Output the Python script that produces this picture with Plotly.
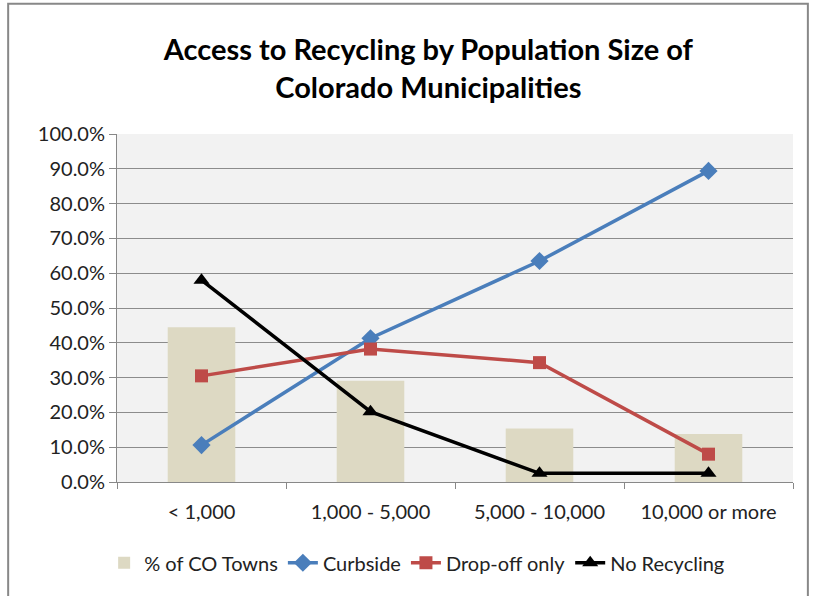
import plotly.graph_objects as go

categories = ["< 1,000", "1,000 - 5,000", "5,000 - 10,000", "10,000 or more"]
pct_towns = [0.445, 0.291, 0.154, 0.138]
curbside = [0.106, 0.413, 0.635, 0.894]
dropoff = [0.305, 0.382, 0.343, 0.080]
no_recycling = [0.580, 0.202, 0.025, 0.025]

font_family = "Lato, 'Open Sans', sans-serif"

fig = go.Figure()
fig.add_trace(go.Bar(x=categories, y=pct_towns, name="% of CO Towns",
                     marker=dict(color="#ddd9c3", line=dict(width=0)), width=0.4))
fig.add_trace(go.Scatter(x=categories, y=curbside, name="Curbside", mode="lines+markers",
                         line=dict(color="#4a7ebb", width=3.5),
                         marker=dict(symbol="diamond", size=14, color="#4a7ebb")))
fig.add_trace(go.Scatter(x=categories, y=dropoff, name="Drop-off only", mode="lines+markers",
                         line=dict(color="#be4b48", width=3.5),
                         marker=dict(symbol="square", size=13, color="#be4b48")))
fig.add_trace(go.Scatter(x=categories, y=no_recycling, name="No Recycling", mode="lines+markers",
                         line=dict(color="#000000", width=3.5),
                         marker=dict(symbol="triangle-up", size=14, color="#000000")))

fig.update_layout(
    width=816, height=596,
    margin=dict(l=117, r=23, t=134, b=114),
    paper_bgcolor="white", plot_bgcolor="#f2f2f2",
    font=dict(family=font_family, size=20, color="#222"),
    title=dict(text="<b>Access to Recycling by Population Size of<br>Colorado Municipalities</b>",
               x=0.525, xanchor="center", y=0.899, yanchor="middle",
               font=dict(family=font_family, size=29, color="#000")),
    showlegend=True,
    legend=dict(orientation="h", x=0.444, xanchor="center", y=-0.232, yanchor="middle",
                font=dict(size=20, color="#222"), itemwidth=30, tracegroupgap=0),
    bargap=0.6,
)
fig.update_xaxes(type="category", tickson="boundaries", ticks="outside", ticklen=6,
                 tickcolor="#888", showline=True, linecolor="#888", linewidth=1,
                 showgrid=False, range=[-0.5, 3.5], ticklabelstandoff=12)
fig.update_yaxes(range=[0, 1.0], dtick=0.1, tickformat=".1%", ticks="outside", ticklen=7,
                 tickcolor="#888", showline=True, linecolor="#888", linewidth=1,
                 showgrid=True, gridcolor="#8c8c8c", gridwidth=1, zeroline=False)

fig.add_shape(type="rect", xref="paper", yref="paper",
              x0=-0.161, x1=1.022, y0=-0.36, y1=1.374,
              line=dict(color="#888", width=2), fillcolor="rgba(0,0,0,0)", layer="below")

fig.write_html("out.html", config={"displayModeBar": False},
               post_script="document.body.style.margin='0';")
